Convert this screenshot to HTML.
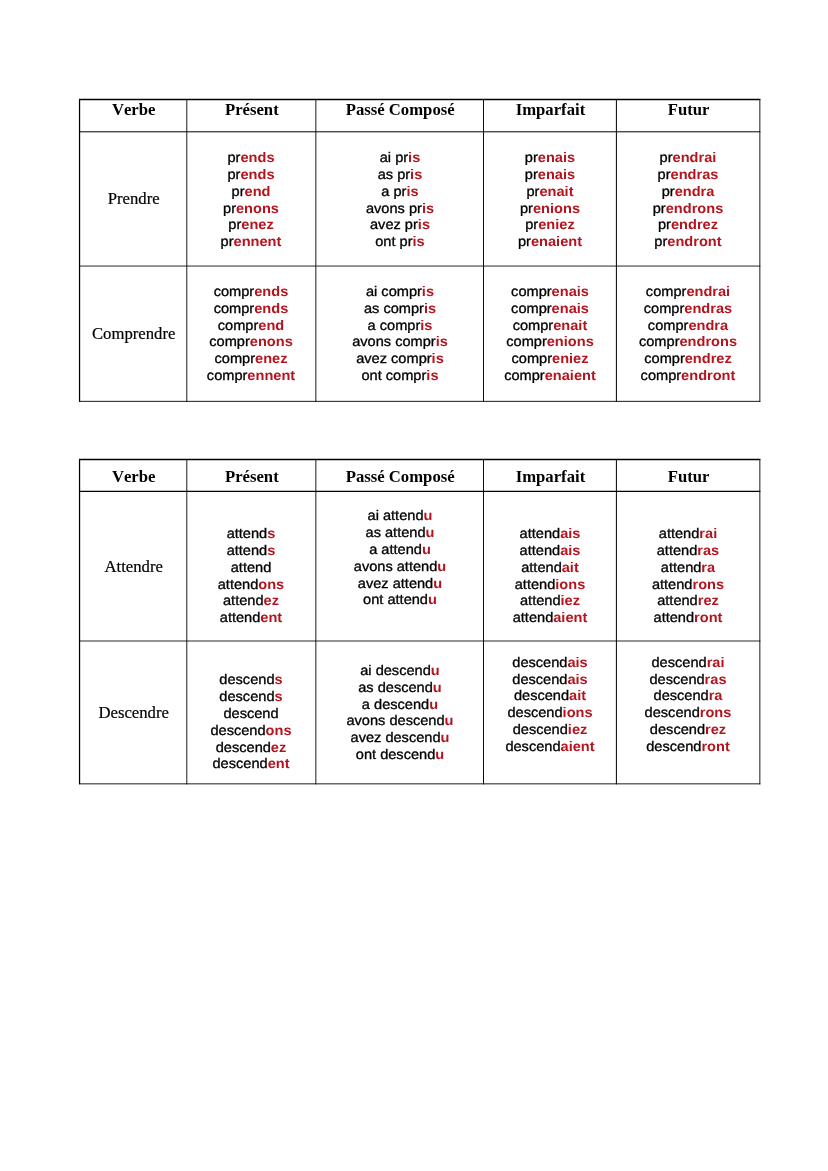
<!DOCTYPE html>
<html lang="fr">
<head>
<meta charset="utf-8">
<title>Conjugaison</title>
<style>
html,body{margin:0;padding:0;background:#fff;}
body{width:828px;height:1171px;position:relative;overflow:hidden;}
.grid{position:absolute;left:0;top:0;}
.grid line{stroke:#000;}
.h,.v,.b{font-kerning:none;position:absolute;width:300px;text-align:center;white-space:nowrap;line-height:0;height:0;}
.h{font-family:"Liberation Serif",serif;font-weight:bold;font-size:16.7px;color:#000;}
.v{font-family:"Liberation Serif",serif;font-size:16.7px;color:#000;-webkit-text-stroke:0.2px #000;}
.b{font-family:"Liberation Sans",sans-serif;font-size:13.9px;color:#000;}
.b{-webkit-text-stroke:0.32px #000;transform:scaleX(1.05);text-rendering:geometricPrecision;}
.b b{color:#b4141e;font-weight:bold;-webkit-text-stroke:0;}
.h::before,.v::before,.b::before{content:"";display:inline-block;height:0;vertical-align:baseline;}
</style>
</head>
<body>
<div id="pg" style="position:absolute;left:0;top:0;width:828px;height:1171px;will-change:transform;background:#fff">
<svg class="grid" width="828" height="1171" viewBox="0 0 828 1171"><line x1="79.05" y1="99.45" x2="760.35" y2="99.45" stroke-width="1.35"/><line x1="79.05" y1="131.8" x2="760.35" y2="131.8" stroke-width="1.0"/><line x1="79.05" y1="266.05" x2="760.35" y2="266.05" stroke-width="0.85"/><line x1="79.05" y1="401.35" x2="760.35" y2="401.35" stroke-width="0.9"/><line x1="79.55" y1="98.95" x2="79.55" y2="401.85" stroke-width="1.25"/><line x1="186.8" y1="98.95" x2="186.8" y2="401.85" stroke-width="0.9"/><line x1="315.85" y1="98.95" x2="315.85" y2="401.85" stroke-width="0.9"/><line x1="483.5" y1="98.95" x2="483.5" y2="401.85" stroke-width="0.95"/><line x1="616.4" y1="98.95" x2="616.4" y2="401.85" stroke-width="1.0"/><line x1="759.85" y1="98.95" x2="759.85" y2="401.85" stroke-width="0.9"/><line x1="79.05" y1="459.45" x2="760.35" y2="459.45" stroke-width="1.35"/><line x1="79.05" y1="491.4" x2="760.35" y2="491.4" stroke-width="1.15"/><line x1="79.05" y1="641.0" x2="760.35" y2="641.0" stroke-width="0.85"/><line x1="79.05" y1="783.85" x2="760.35" y2="783.85" stroke-width="0.9"/><line x1="79.55" y1="458.95" x2="79.55" y2="784.35" stroke-width="1.25"/><line x1="186.8" y1="458.95" x2="186.8" y2="784.35" stroke-width="0.9"/><line x1="315.85" y1="458.95" x2="315.85" y2="784.35" stroke-width="0.9"/><line x1="483.5" y1="458.95" x2="483.5" y2="784.35" stroke-width="0.95"/><line x1="616.4" y1="458.95" x2="616.4" y2="784.35" stroke-width="1.0"/><line x1="759.85" y1="458.95" x2="759.85" y2="784.35" stroke-width="0.9"/></svg>
<div class="h" style="left:-16.32px;top:109.96px">Verbe</div><div class="h" style="left:-16.32px;top:476.96px">Verbe</div><div class="h" style="left:101.83px;top:109.96px">Présent</div><div class="h" style="left:101.83px;top:476.96px">Présent</div><div class="h" style="left:250.18px;top:109.96px">Passé Composé</div><div class="h" style="left:250.18px;top:476.96px">Passé Composé</div><div class="h" style="left:400.45px;top:109.96px">Imparfait</div><div class="h" style="left:400.45px;top:476.96px">Imparfait</div><div class="h" style="left:538.62px;top:109.96px">Futur</div><div class="h" style="left:538.62px;top:476.96px">Futur</div><div class="v" style="left:-16.32px;top:199.36px">Prendre</div><div class="v" style="left:-16.32px;top:334.46px">Comprendre</div><div class="v" style="left:-16.32px;top:566.66px">Attendre</div><div class="v" style="left:-16.32px;top:713.26px">Descendre</div><div class="b" style="left:101.33px;top:157.20px">pr<b>ends</b></div><div class="b" style="left:101.33px;top:174.00px">pr<b>ends</b></div><div class="b" style="left:101.33px;top:190.80px">pr<b>end</b></div><div class="b" style="left:101.33px;top:207.60px">pr<b>enons</b></div><div class="b" style="left:101.33px;top:224.40px">pr<b>enez</b></div><div class="b" style="left:101.33px;top:241.20px">pr<b>ennent</b></div><div class="b" style="left:249.68px;top:157.20px">ai pr<b>is</b></div><div class="b" style="left:249.68px;top:174.00px">as pr<b>is</b></div><div class="b" style="left:249.68px;top:190.80px">a pr<b>is</b></div><div class="b" style="left:249.68px;top:207.60px">avons pr<b>is</b></div><div class="b" style="left:249.68px;top:224.40px">avez pr<b>is</b></div><div class="b" style="left:249.68px;top:241.20px">ont pr<b>is</b></div><div class="b" style="left:399.95px;top:157.20px">pr<b>enais</b></div><div class="b" style="left:399.95px;top:174.00px">pr<b>enais</b></div><div class="b" style="left:399.95px;top:190.80px">pr<b>enait</b></div><div class="b" style="left:399.95px;top:207.60px">pr<b>enions</b></div><div class="b" style="left:399.95px;top:224.40px">pr<b>eniez</b></div><div class="b" style="left:399.95px;top:241.20px">pr<b>enaient</b></div><div class="b" style="left:538.12px;top:157.20px">pr<b>endrai</b></div><div class="b" style="left:538.12px;top:174.00px">pr<b>endras</b></div><div class="b" style="left:538.12px;top:190.80px">pr<b>endra</b></div><div class="b" style="left:538.12px;top:207.60px">pr<b>endrons</b></div><div class="b" style="left:538.12px;top:224.40px">pr<b>endrez</b></div><div class="b" style="left:538.12px;top:241.20px">pr<b>endront</b></div><div class="b" style="left:101.33px;top:291.00px">compr<b>ends</b></div><div class="b" style="left:101.33px;top:307.80px">compr<b>ends</b></div><div class="b" style="left:101.33px;top:324.60px">compr<b>end</b></div><div class="b" style="left:101.33px;top:341.40px">compr<b>enons</b></div><div class="b" style="left:101.33px;top:358.20px">compr<b>enez</b></div><div class="b" style="left:101.33px;top:375.00px">compr<b>ennent</b></div><div class="b" style="left:249.68px;top:291.00px">ai compr<b>is</b></div><div class="b" style="left:249.68px;top:307.80px">as compr<b>is</b></div><div class="b" style="left:249.68px;top:324.60px">a compr<b>is</b></div><div class="b" style="left:249.68px;top:341.40px">avons compr<b>is</b></div><div class="b" style="left:249.68px;top:358.20px">avez compr<b>is</b></div><div class="b" style="left:249.68px;top:375.00px">ont compr<b>is</b></div><div class="b" style="left:399.95px;top:291.00px">compr<b>enais</b></div><div class="b" style="left:399.95px;top:307.80px">compr<b>enais</b></div><div class="b" style="left:399.95px;top:324.60px">compr<b>enait</b></div><div class="b" style="left:399.95px;top:341.40px">compr<b>enions</b></div><div class="b" style="left:399.95px;top:358.20px">compr<b>eniez</b></div><div class="b" style="left:399.95px;top:375.00px">compr<b>enaient</b></div><div class="b" style="left:538.12px;top:291.00px">compr<b>endrai</b></div><div class="b" style="left:538.12px;top:307.80px">compr<b>endras</b></div><div class="b" style="left:538.12px;top:324.60px">compr<b>endra</b></div><div class="b" style="left:538.12px;top:341.40px">compr<b>endrons</b></div><div class="b" style="left:538.12px;top:358.20px">compr<b>endrez</b></div><div class="b" style="left:538.12px;top:375.00px">compr<b>endront</b></div><div class="b" style="left:101.33px;top:533.10px">attend<b>s</b></div><div class="b" style="left:101.33px;top:549.90px">attend<b>s</b></div><div class="b" style="left:101.33px;top:566.70px">attend</div><div class="b" style="left:101.33px;top:583.50px">attend<b>ons</b></div><div class="b" style="left:101.33px;top:600.30px">attend<b>ez</b></div><div class="b" style="left:101.33px;top:617.10px">attend<b>ent</b></div><div class="b" style="left:249.68px;top:515.30px">ai attend<b>u</b></div><div class="b" style="left:249.68px;top:532.10px">as attend<b>u</b></div><div class="b" style="left:249.68px;top:548.90px">a attend<b>u</b></div><div class="b" style="left:249.68px;top:565.70px">avons attend<b>u</b></div><div class="b" style="left:249.68px;top:582.50px">avez attend<b>u</b></div><div class="b" style="left:249.68px;top:599.30px">ont attend<b>u</b></div><div class="b" style="left:399.95px;top:533.10px">attend<b>ais</b></div><div class="b" style="left:399.95px;top:549.90px">attend<b>ais</b></div><div class="b" style="left:399.95px;top:566.70px">attend<b>ait</b></div><div class="b" style="left:399.95px;top:583.50px">attend<b>ions</b></div><div class="b" style="left:399.95px;top:600.30px">attend<b>iez</b></div><div class="b" style="left:399.95px;top:617.10px">attend<b>aient</b></div><div class="b" style="left:538.12px;top:533.10px">attend<b>rai</b></div><div class="b" style="left:538.12px;top:549.90px">attend<b>ras</b></div><div class="b" style="left:538.12px;top:566.70px">attend<b>ra</b></div><div class="b" style="left:538.12px;top:583.50px">attend<b>rons</b></div><div class="b" style="left:538.12px;top:600.30px">attend<b>rez</b></div><div class="b" style="left:538.12px;top:617.10px">attend<b>ront</b></div><div class="b" style="left:101.33px;top:679.30px">descend<b>s</b></div><div class="b" style="left:101.33px;top:696.10px">descend<b>s</b></div><div class="b" style="left:101.33px;top:712.90px">descend</div><div class="b" style="left:101.33px;top:729.70px">descend<b>ons</b></div><div class="b" style="left:101.33px;top:746.50px">descend<b>ez</b></div><div class="b" style="left:101.33px;top:763.30px">descend<b>ent</b></div><div class="b" style="left:249.68px;top:670.00px">ai descend<b>u</b></div><div class="b" style="left:249.68px;top:686.80px">as descend<b>u</b></div><div class="b" style="left:249.68px;top:703.60px">a descend<b>u</b></div><div class="b" style="left:249.68px;top:720.40px">avons descend<b>u</b></div><div class="b" style="left:249.68px;top:737.20px">avez descend<b>u</b></div><div class="b" style="left:249.68px;top:754.00px">ont descend<b>u</b></div><div class="b" style="left:399.95px;top:661.80px">descend<b>ais</b></div><div class="b" style="left:399.95px;top:678.60px">descend<b>ais</b></div><div class="b" style="left:399.95px;top:695.40px">descend<b>ait</b></div><div class="b" style="left:399.95px;top:712.20px">descend<b>ions</b></div><div class="b" style="left:399.95px;top:729.00px">descend<b>iez</b></div><div class="b" style="left:399.95px;top:745.80px">descend<b>aient</b></div><div class="b" style="left:538.12px;top:661.80px">descend<b>rai</b></div><div class="b" style="left:538.12px;top:678.60px">descend<b>ras</b></div><div class="b" style="left:538.12px;top:695.40px">descend<b>ra</b></div><div class="b" style="left:538.12px;top:712.20px">descend<b>rons</b></div><div class="b" style="left:538.12px;top:729.00px">descend<b>rez</b></div><div class="b" style="left:538.12px;top:745.80px">descend<b>ront</b></div>
</div>
</body>
</html>
